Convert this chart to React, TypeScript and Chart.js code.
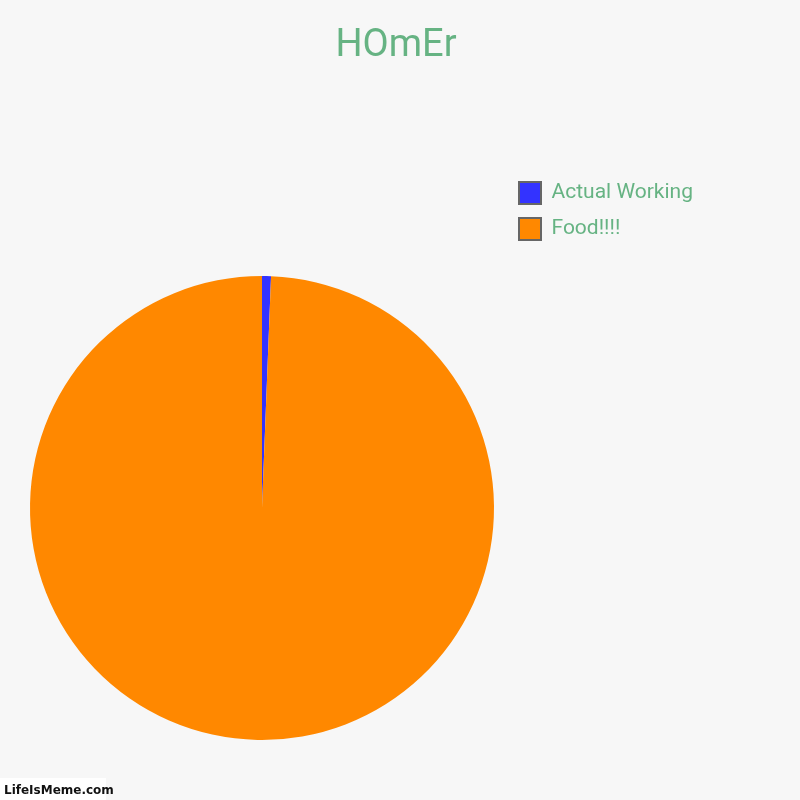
import { Chart, ChartConfiguration, Plugin, registerables } from "chart.js";
import { useEffect, useRef } from "react";

Chart.register(...registerables);

const titleText = "HOmEr";
const labels = ["Actual Working", "Food!!!!"];
const values = [1, 160];
const colors = ["#3333ff", "#ff8800"];

const green = "#66b383";

// pie sits lower than the legend, so pin the pie area and legend box after layout
const placeBoxes: Plugin<"pie"> = {
  id: "placeBoxes",
  afterLayout(chart) {
    const a = chart.chartArea;
    a.left = 30;
    a.right = 494;
    a.top = 276;
    a.bottom = 740;
    a.width = 464;
    a.height = 464;

    const legend = chart.legend;
    if (legend) {
      const w = legend.width;
      const h = legend.height;
      legend.left = 505;
      legend.top = 168;
      legend.right = 505 + w;
      legend.bottom = 168 + h;
    }
  },
};

const watermark: Plugin<"pie"> = {
  id: "watermark",
  afterDraw(chart) {
    const ctx = chart.ctx;
    ctx.save();
    ctx.fillStyle = "#ffffff";
    ctx.fillRect(0, 778, 106, 22);
    ctx.fillStyle = "#111111";
    ctx.font = "bold 12px 'DejaVu Sans'";
    ctx.textBaseline = "alphabetic";
    ctx.fillText("LifeIsMeme.com", 4, 794);
    ctx.restore();
  },
};

export default function App() {
  const chartRef = useRef<HTMLCanvasElement | null>(null);

  useEffect(() => {
    if (!chartRef.current) return;
    const ctx = chartRef.current.getContext("2d");
    if (!ctx) return;

    const config: ChartConfiguration<"pie", number[]> = {
      type: "pie",
      data: {
        labels,
        datasets: [
          {
            data: values,
            backgroundColor: colors,
            borderWidth: 0,
          },
        ],
      },
      options: {
        responsive: true,
        maintainAspectRatio: false,
        animation: false,
        layout: { padding: { right: 8 } },
        plugins: {
          title: {
            display: true,
            text: titleText,
            color: green,
            font: { family: "Roboto", size: 38, weight: 400 },
            padding: { top: 24, bottom: 100 },
          },
          legend: {
            display: true,
            position: "right",
            align: "start",
            fullSize: false,
            labels: {
              boxWidth: 22,
              boxHeight: 22,
              padding: 14,
              color: green,
              font: { family: "Roboto", size: 21 },
              generateLabels: (chart) =>
                labels.map((text, i) => ({
                  text,
                  fillStyle: colors[i],
                  strokeStyle: "#666666",
                  lineWidth: 2,
                  fontColor: green,
                  hidden: !chart.getDataVisibility(i),
                  index: i,
                })),
            },
          },
          tooltip: { enabled: false },
        },
      },
      plugins: [placeBoxes, watermark],
    };

    const chart = new Chart(ctx, config);
    return () => {
      chart.destroy();
    };
  }, []);

  return (
    <div
      style={{
        position: "fixed",
        top: 0,
        left: 0,
        width: 800,
        height: 800,
        background: "#f7f7f7",
      }}
    >
      <canvas ref={chartRef} />
    </div>
  );
}
